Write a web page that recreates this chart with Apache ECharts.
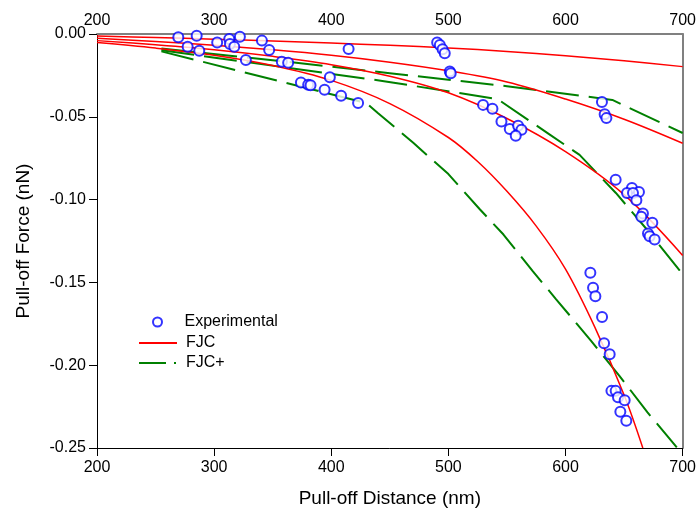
<!DOCTYPE html>
<html>
<head>
<meta charset="utf-8">
<script src="https://cdn.jsdelivr.net/npm/echarts@6/dist/echarts.min.js"></script>
<style>html,body{margin:0;padding:0;background:#fff;}#c{width:699px;height:521px;}</style>
</head>
<body>
<div id="c"></div>
<script>
// Experimental points
const expX = [269.4,285.1,277.4,287.3,302.6,312.9,313.5,317.2,322.0,340.8,347.0,327.1,357.8,363.2,374.1,380.3,382.3,398.8,394.3,408.4,422.9,414.8,
  490.4,492.7,495.0,496.9,501.2,502.0,529.6,537.6,545.3,552.4,559.5,562.4,557.5,631.1,633.4,634.9,
  642.8,656.7,652.5,662.7,657.6,660.5,666.1,664.7,674.1,670.4,671.8,676.1,
  621.2,623.5,625.5,631.2,632.9,637.7,639.2,642.8,644.8,650.5,646.8,651.9];
const expY = [-0.0020,-0.0010,-0.0077,-0.0101,-0.0052,-0.0030,-0.0060,-0.0077,-0.0016,-0.0040,-0.0096,-0.0157,-0.0167,-0.0173,-0.0293,-0.0307,-0.0309,-0.0261,-0.0337,-0.0373,-0.0417,-0.0090,
  -0.0052,-0.0066,-0.0092,-0.0116,-0.0227,-0.0237,-0.0428,-0.0452,-0.0528,-0.0574,-0.0554,-0.0578,-0.0614,-0.0411,-0.0484,-0.0508,
  -0.0880,-0.0930,-0.0960,-0.0954,-0.0960,-0.1004,-0.1084,-0.1104,-0.1140,-0.1205,-0.1221,-0.1241,
  -0.1442,-0.1532,-0.1583,-0.1709,-0.1867,-0.1934,-0.2155,-0.2155,-0.2194,-0.2211,-0.2281,-0.2336];

// FJC curves
const fjcX = [200,250,300,350,400,450,500,550,600,650,700];
const fjc1Y = [-0.0012,-0.0021,-0.0031,-0.0043,-0.0055,-0.0068,-0.0084,-0.0105,-0.0132,-0.0162,-0.0197];
const fjc2Y = [-0.0026,-0.0045,-0.0068,-0.0095,-0.0128,-0.0170,-0.0222,-0.0290,-0.0393,-0.0515,-0.0660];
const fjc3Y = [-0.0040,-0.0065,-0.0095,-0.0135,-0.0185,-0.0255,-0.0355,-0.0510,-0.0710,-0.0970,-0.1337];
const fjc4X = [200,250,300,350,400,450,500,525,550,575,600,625,650,666];
const fjc4Y = [-0.0052,-0.0085,-0.0128,-0.0190,-0.0280,-0.0420,-0.0625,-0.0770,-0.0950,-0.1160,-0.1420,-0.1770,-0.2180,-0.2500];

// FJC+ curves
const fjcp1X = [255,350,450,550,640,700];
const fjcp1Y = [-0.0088,-0.0158,-0.0237,-0.0315,-0.0398,-0.0598];
const fjcp2X = [255,445,542,585,612,643,670,700];
const fjcp2Y = [-0.0098,-0.0285,-0.0393,-0.0600,-0.0730,-0.0960,-0.1185,-0.1450];
const fjcp3X = [255,430,440,470,500,527,547,572,592,622,646,670,695];
const fjcp3Y = [-0.0105,-0.0417,-0.0478,-0.0657,-0.0846,-0.1060,-0.1211,-0.1432,-0.1602,-0.1854,-0.2064,-0.2285,-0.2496];

const xTicks = [200,300,400,500,600,700];

const zip = (xs, ys) => xs.map((x, i) => [x, ys[i]]);
const FONT = 'Liberation Sans';
const redStyle = {color: '#ff0000', width: 1.5};
const greenStyle = {color: '#008000', width: 2, type: [33, 10]};

function redSeries(xs, ys) {
  return {name: 'FJC', type: 'line', data: zip(xs, ys), symbol: 'none', smooth: 0.35,
    lineStyle: redStyle, itemStyle: {color: '#ff0000'}, z: 3, silent: true};
}
function greenSeries(xs, ys) {
  return {name: 'FJC+', type: 'line', data: zip(xs, ys), symbol: 'none', smooth: false,
    lineStyle: greenStyle, itemStyle: {color: '#008000'}, z: 2, silent: true};
}

const chart = echarts.init(document.getElementById('c'), null, {renderer: 'canvas'});
const legendBase = {orient: 'vertical', itemWidth: 38, itemHeight: 9, itemGap: 6, selectedMode: false};
const legText = pad => ({fontFamily: FONT, fontSize: 16, color: '#000', padding: [0, 0, 0, pad]});
const hiddenSym = {color: 'rgba(0,0,0,0)', borderWidth: 0, opacity: 0};

chart.setOption({
  animation: false,
  backgroundColor: '#fff',
  grid: {left: 97, right: 16, top: 34, bottom: 73, containLabel: false},
  legend: [
    Object.assign({}, legendBase, {left: 147, top: 309, textStyle: legText(3),
      data: [{name: 'Experimental', icon: 'emptyCircle'}]}),
    Object.assign({}, legendBase, {left: 133, top: 330, textStyle: legText(4),
      data: [{name: 'FJC', itemStyle: hiddenSym}]}),
    Object.assign({}, legendBase, {left: 133, top: 350, textStyle: legText(4),
      data: [{name: 'FJC+', itemStyle: hiddenSym,
        lineStyle: {color: '#008000', width: 2, type: [27, 8, 2, 30]}}]})
  ],
  xAxis: [
    {type: 'value', position: 'bottom', min: 200, max: 700, interval: 100,
      name: 'Pull-off Distance (nm)', nameLocation: 'middle', nameGap: 41,
      nameTextStyle: {fontFamily: FONT, fontSize: 19, color: '#000'},
      axisLine: {show: true, onZero: false, lineStyle: {color: '#000', width: 1}},
      axisTick: {show: true, inside: false, length: 8, lineStyle: {color: '#000'}},
      axisLabel: {fontFamily: FONT, fontSize: 16, color: '#000', margin: 12,
        formatter: v => xTicks.includes(v) ? String(v) : ''},
      splitLine: {show: false}},
    {type: 'value', position: 'top', min: 200, max: 700, interval: 100,
      axisLine: {show: true, onZero: false, lineStyle: {color: '#808080', width: 2}},
      axisTick: {show: false},
      axisLabel: {fontFamily: FONT, fontSize: 16, color: '#000', margin: 5},
      splitLine: {show: false}}
  ],
  yAxis: [
    {type: 'value', position: 'left', min: -0.25, max: 0, interval: 0.05,
      name: 'Pull-off Force (nN)', nameLocation: 'middle', nameGap: 64, nameRotate: 90,
      nameTextStyle: {fontFamily: FONT, fontSize: 19, color: '#000'},
      axisLine: {show: true, onZero: false, lineStyle: {color: '#000', width: 1}},
      axisTick: {show: true, inside: false, length: 8, lineStyle: {color: '#000'}},
      axisLabel: {fontFamily: FONT, fontSize: 16, color: '#000', margin: 11,
        formatter: v => (Math.abs(v) < 1e-9 ? 0 : v).toFixed(2)},
      splitLine: {show: false}},
    {type: 'value', position: 'right', min: -0.25, max: 0, interval: 0.05,
      axisLine: {show: true, onZero: false, lineStyle: {color: '#808080', width: 2}},
      axisTick: {show: false}, axisLabel: {show: false}, splitLine: {show: false}}
  ],
  series: [
    {name: 'Experimental', type: 'scatter', data: zip(expX, expY), symbol: 'emptyCircle', symbolSize: 10,
      itemStyle: {color: '#0000ff', borderColor: '#0000ff', borderWidth: 1}, z: 4, silent: true},
    redSeries(fjcX, fjc1Y),
    redSeries(fjcX, fjc2Y),
    redSeries(fjcX, fjc3Y),
    redSeries(fjc4X, fjc4Y),
    greenSeries(fjcp1X, fjcp1Y),
    greenSeries(fjcp2X, fjcp2Y),
    greenSeries(fjcp3X, fjcp3Y)
  ]
});
</script>
</body>
</html>
